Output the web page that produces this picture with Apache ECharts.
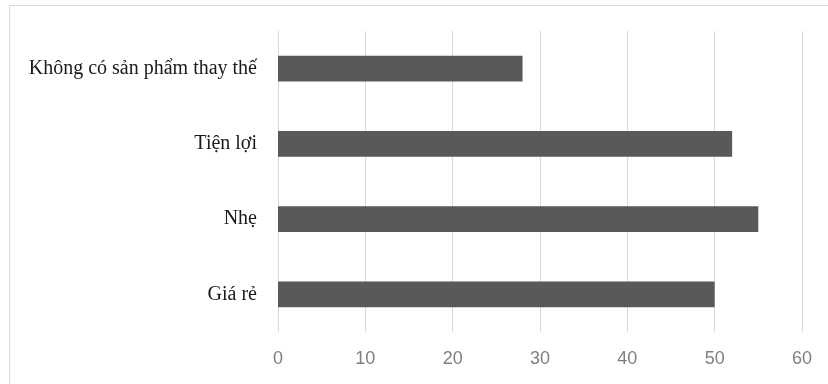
<!DOCTYPE html>
<html><head><meta charset="utf-8">
<script src="https://cdn.jsdelivr.net/npm/echarts@6/dist/echarts.min.js"></script>
<style>html,body{margin:0;padding:0;background:#fff}#c{width:828px;height:384px}</style>
</head><body><div id="c"></div>
<script>
const categories = ['Giá rẻ', 'Nhẹ', 'Tiện lợi', 'Không có sản phẩm thay thế'];
const values = [50, 55, 52, 28];
const xTicks = [0, 10, 20, 30, 40, 50, 60];

const chart = echarts.init(document.getElementById('c'), null, {renderer: 'canvas'});
chart.setOption({
  animation: false,
  backgroundColor: '#fff',
  graphic: [{
    type: 'rect', silent: true,
    shape: {x: 9.5, y: 5.5, width: 840, height: 400},
    style: {fill: 'none', stroke: '#d9d9d9', lineWidth: 1}
  }],
  grid: {left: 278, right: 26, top: 31, bottom: 52, containLabel: false},
  xAxis: {
    type: 'value', min: xTicks[0], max: xTicks[xTicks.length - 1], interval: 10,
    axisLine: {show: false}, axisTick: {show: false},
    splitLine: {show: true, lineStyle: {color: '#d9d9d9', width: 1}},
    axisLabel: {color: '#7f7f7f', fontFamily: 'Liberation Sans, Arial, sans-serif', fontSize: 18, margin: 18}
  },
  yAxis: {
    type: 'category', data: categories,
    axisLine: {show: false}, axisTick: {show: false},
    axisLabel: {color: '#1a1a1a', fontFamily: 'Liberation Serif, Times New Roman, serif', fontSize: 20, margin: 21}
  },
  series: [{
    type: 'bar', data: values, barWidth: '34.5%',
    itemStyle: {color: '#595959'}
  }]
});
</script></body></html>
